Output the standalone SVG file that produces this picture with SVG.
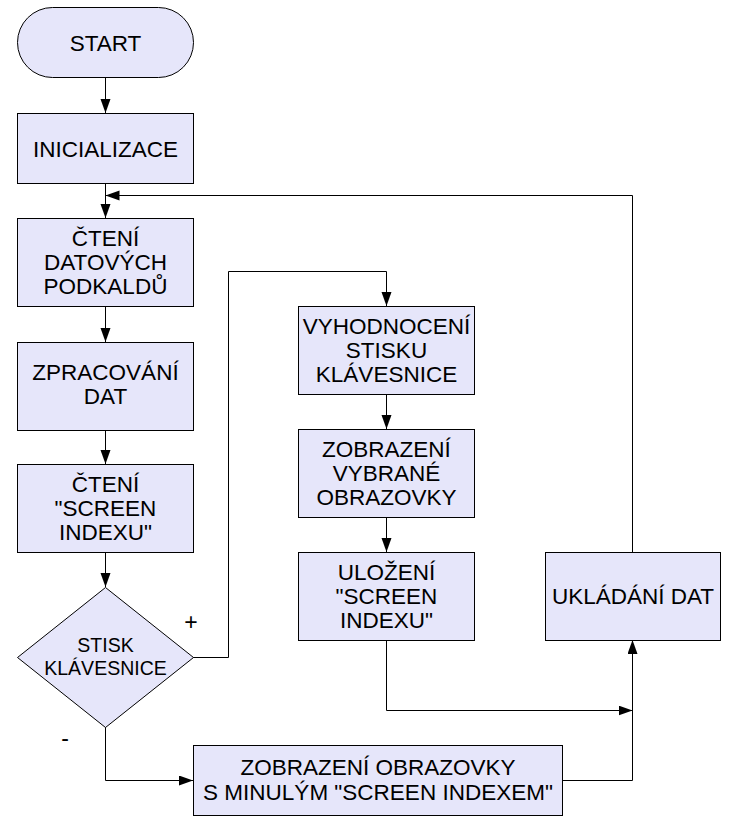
<svg xmlns="http://www.w3.org/2000/svg" width="729" height="826" viewBox="0 0 729 826">
<style>
.n{fill:#e6e6fa;stroke:#000;stroke-width:1}
.t{font-family:"Liberation Sans",Arial,sans-serif;font-size:22.5px;fill:#000;text-anchor:middle}
.d{font-size:19.5px}
.s{font-size:23px}
.c{fill:none;stroke:#000;stroke-width:1}
</style>
<defs>
<marker id="a" markerUnits="userSpaceOnUse" markerWidth="15" markerHeight="11" refX="14" refY="5" orient="auto">
<path d="M0,0 L14,5 L0,10 z" fill="#000"/>
</marker>
</defs>
<rect width="729" height="826" fill="#fff"/>
<g id="connectors">
<path class="c" d="M105.5,77 V113" marker-end="url(#a)"/>
<path class="c" d="M105.5,183 V218" marker-end="url(#a)"/>
<path class="c" d="M105.5,306 V342" marker-end="url(#a)"/>
<path class="c" d="M105.5,430 V464" marker-end="url(#a)"/>
<path class="c" d="M105.5,552 V587" marker-end="url(#a)"/>
<path class="c" d="M193,657.5 H228.5 V271.5 H386.5 V306" marker-end="url(#a)"/>
<path class="c" d="M386.5,394 V429" marker-end="url(#a)"/>
<path class="c" d="M386.5,517 V552" marker-end="url(#a)"/>
<path class="c" d="M386.5,640 V710.5 H632.5" marker-end="url(#a)"/>
<path class="c" d="M105.5,727 V780.5 H193" marker-end="url(#a)"/>
<path class="c" d="M562,780.5 H632.5 V640" marker-end="url(#a)"/>
<path class="c" d="M632.5,552 V195.5 H105.5" marker-end="url(#a)"/>
<text class="t s" x="191" y="630">+</text>
<text class="t s" x="65" y="746">-</text>
</g>
<g id="start">
<rect class="n" x="17.5" y="7.5" width="176" height="70" rx="35" ry="35"/>
<text class="t" x="105.5" y="50.5">START</text>
</g>
<g id="init">
<rect class="n" x="17.5" y="113.5" width="176" height="70"/>
<text class="t" x="105.5" y="156.5">INICIALIZACE</text>
</g>
<g id="cteni-dat">
<rect class="n" x="17.5" y="218.5" width="176" height="88"/>
<text class="t" x="105.5" y="245.5">ČTENÍ</text>
<text class="t" x="105.5" y="269.5">DATOVÝCH</text>
<text class="t" x="105.5" y="293.5">PODKALDŮ</text>
</g>
<g id="zpracovani">
<rect class="n" x="17.5" y="342.5" width="176" height="88"/>
<text class="t" x="105.5" y="380">ZPRACOVÁNÍ</text>
<text class="t" x="105.5" y="404">DAT</text>
</g>
<g id="cteni-screen">
<rect class="n" x="17.5" y="464.5" width="176" height="88"/>
<text class="t" x="105.5" y="491.5">ČTENÍ</text>
<text class="t" x="105.5" y="515.5">"SCREEN</text>
<text class="t" x="105.5" y="539.5">INDEXU"</text>
</g>
<g id="stisk">
<polygon class="n" points="105.5,587.5 193.5,657.5 105.5,727.5 17.5,657.5"/>
<text class="t d" x="105.5" y="652">STISK</text>
<text class="t d" x="105.5" y="674.5">KLÁVESNICE</text>
</g>
<g id="vyhodnoceni">
<rect class="n" x="298.5" y="306.5" width="176" height="88"/>
<text class="t" x="386.5" y="333.5">VYHODNOCENÍ</text>
<text class="t" x="386.5" y="357.5">STISKU</text>
<text class="t" x="386.5" y="381.5">KLÁVESNICE</text>
</g>
<g id="zobrazeni-vybrane">
<rect class="n" x="298.5" y="429.5" width="176" height="88"/>
<text class="t" x="386.5" y="456.5">ZOBRAZENÍ</text>
<text class="t" x="386.5" y="480.5">VYBRANÉ</text>
<text class="t" x="386.5" y="504.5">OBRAZOVKY</text>
</g>
<g id="ulozeni">
<rect class="n" x="298.5" y="552.5" width="176" height="88"/>
<text class="t" x="386.5" y="579.5">ULOŽENÍ</text>
<text class="t" x="386.5" y="603.5">"SCREEN</text>
<text class="t" x="386.5" y="627.5">INDEXU"</text>
</g>
<g id="ukladani">
<rect class="n" x="545.5" y="552.5" width="175" height="88"/>
<text class="t" x="633" y="604">UKLÁDÁNÍ DAT</text>
</g>
<g id="zobrazeni-minulym">
<rect class="n" x="193.5" y="745.5" width="369" height="70"/>
<text class="t" x="378" y="775">ZOBRAZENÍ OBRAZOVKY</text>
<text class="t" x="378" y="800">S MINULÝM "SCREEN INDEXEM"</text>
</g>
</svg>
